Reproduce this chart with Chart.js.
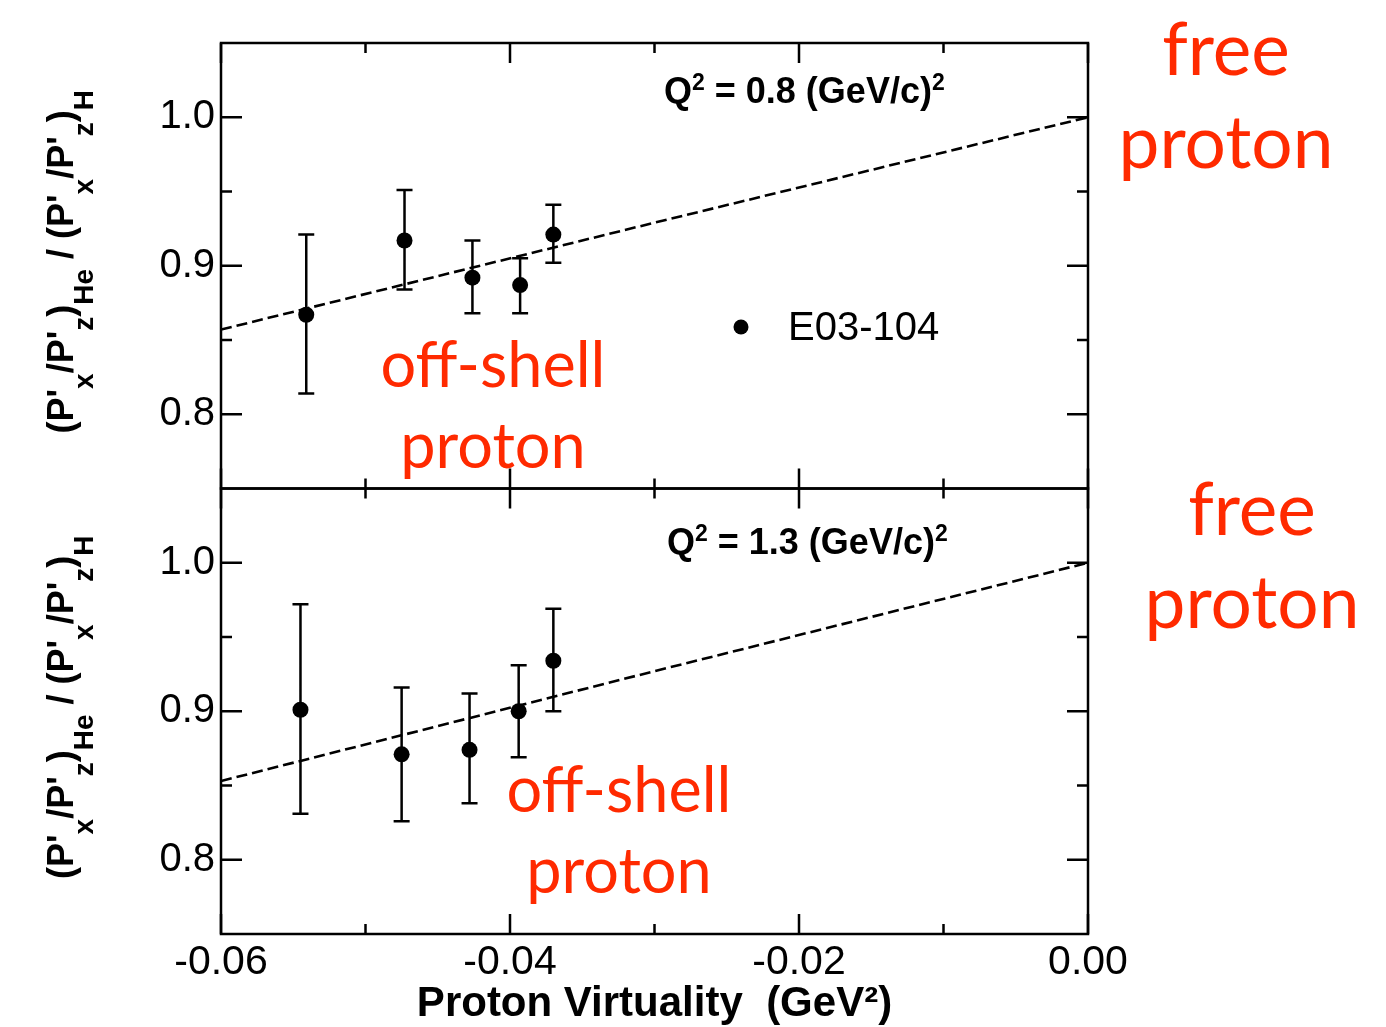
<!DOCTYPE html>
<html>
<head>
<meta charset="utf-8">
<script src="https://cdn.jsdelivr.net/npm/chart.js@4.4.0/dist/chart.umd.min.js"></script>
<style>
  html, body { margin: 0; padding: 0; background: #fff; }
  #wrap { width: 1386px; height: 1027px; }
</style>
</head>
<body>
<div id="wrap"><canvas id="chart" width="1386" height="1027"></canvas></div>
<script>
// Q^2 = 0.8 (GeV/c)^2 : proton virtuality and polarization-transfer ratio
const virtTop = [-0.0541, -0.0473, -0.0426, -0.0393, -0.0370];
const ratioTop = [0.867, 0.917, 0.892, 0.887, 0.921];
const lowTop = [0.814, 0.884, 0.868, 0.868, 0.902];
const highTop = [0.921, 0.951, 0.917, 0.905, 0.941];

// Q^2 = 1.3 (GeV/c)^2
const virtBot = [-0.0545, -0.0475, -0.0428, -0.0394, -0.0370];
const ratioBot = [0.901, 0.871, 0.874, 0.900, 0.934];
const lowBot = [0.831, 0.826, 0.838, 0.869, 0.900];
const highBot = [0.972, 0.916, 0.912, 0.931, 0.969];

// dashed model curves
const curveX = [-0.06, -0.03, 0.0];
const curveTop = [0.857, 0.929, 1.0];
const curveBot = [0.853, 0.927, 1.0];

const xTicks = [-0.06, -0.04, -0.02, 0.0];
const xMinor = [-0.05, -0.03, -0.01];
const yTicks = [0.8, 0.9, 1.0];
const yMinor = [0.85, 0.95];

const SANS = '"Liberation Sans", Arial, Helvetica, sans-serif';
const HUMAN = 'Lato, "Open Sans", sans-serif';
const RED = 'rgb(255, 42, 0)';

Chart.defaults.font.family = SANS;
Chart.defaults.color = '#000';

const pts = (xs, ys) => xs.map((x, i) => ({ x: x, y: ys[i] }));

const panels = [
  { axis: 'yTop', x: virtTop, lo: lowTop, hi: highTop, q2: '0.8' },
  { axis: 'yBot', x: virtBot, lo: lowBot, hi: highBot, q2: '1.3' },
];

// draws a run of text pieces, sub/superscripts shifted off the baseline
function richText(ctx, parts, x, y, size, small, center, subShift) {
  const fontOf = p => 'bold ' + (p.sub || p.sup ? small : size) + 'px ' + SANS;
  let total = 0;
  parts.forEach(p => { ctx.font = fontOf(p); total += ctx.measureText(p.t).width; });
  let cx = center ? x - total / 2 : x;
  ctx.textAlign = 'left';
  ctx.textBaseline = 'alphabetic';
  parts.forEach(p => {
    ctx.font = fontOf(p);
    let dy = 0;
    if (p.sub) dy = subShift;
    if (p.sup) dy = -size * 0.36;
    ctx.fillText(p.t, cx, y + dy);
    cx += ctx.measureText(p.t).width;
  });
}

const framePlugin = {
  id: 'frame',
  beforeDatasetsDraw(chart) {
    const ctx = chart.ctx;
    const xs = chart.scales.x;
    ctx.save();
    ctx.strokeStyle = '#000';
    ctx.lineWidth = 2.5;
    panels.forEach(pn => {
      const ys = chart.scales[pn.axis];
      const l = xs.left, r = xs.right, t = ys.top, b = ys.bottom;
      ctx.strokeRect(l, t, r - l, b - t);
      ctx.beginPath();
      const yt = (v, len) => {
        const p = ys.getPixelForValue(v);
        ctx.moveTo(l, p); ctx.lineTo(l + len, p);
        ctx.moveTo(r, p); ctx.lineTo(r - len, p);
      };
      const xt = (v, len) => {
        const p = xs.getPixelForValue(v);
        ctx.moveTo(p, t); ctx.lineTo(p, t + len);
        ctx.moveTo(p, b); ctx.lineTo(p, b - len);
      };
      yTicks.forEach(v => yt(v, 21));
      yMinor.forEach(v => yt(v, 11));
      xTicks.forEach(v => xt(v, 20));
      xMinor.forEach(v => xt(v, 10));
      ctx.stroke();

      // error bars
      ctx.beginPath();
      pn.x.forEach((xv, i) => {
        const px = xs.getPixelForValue(xv);
        const p1 = ys.getPixelForValue(pn.lo[i]);
        const p2 = ys.getPixelForValue(pn.hi[i]);
        ctx.moveTo(px, p1); ctx.lineTo(px, p2);
        ctx.moveTo(px - 8, p1); ctx.lineTo(px + 8, p1);
        ctx.moveTo(px - 8, p2); ctx.lineTo(px + 8, p2);
      });
      ctx.stroke();
    });
    ctx.restore();
  },
  afterDraw(chart) {
    const ctx = chart.ctx;
    const area = chart.chartArea;
    ctx.save();
    ctx.fillStyle = '#000';

    panels.forEach((pn, k) => {
      const ys = chart.scales[pn.axis];
      // Q^2 label
      richText(ctx, [{ t: 'Q' }, { t: '2', sup: true }, { t: ' = ' + pn.q2 + ' (GeV/c)' }, { t: '2', sup: true }],
        area.left + 443 + k * 3, ys.top + 60 + k * 5, 36, 23, false, 0);
      // y title
      ctx.save();
      ctx.translate(73, (ys.top + ys.bottom) / 2 - 4);
      ctx.rotate(-Math.PI / 2);
      richText(ctx, [
        { t: "(P'" }, { t: 'x', sub: true }, { t: "/P'" }, { t: 'z', sub: true }, { t: ')' }, { t: 'He', sub: true },
        { t: " / (P'" }, { t: 'x', sub: true }, { t: "/P'" }, { t: 'z', sub: true }, { t: ')' }, { t: 'H', sub: true },
      ], 0, 0, 36, 28, true, 20);
      ctx.restore();
    });

    // legend
    const top = chart.scales.yTop;
    const lx = area.left + 520, ly = top.top + 284;
    ctx.beginPath();
    ctx.arc(lx, ly, 7.5, 0, Math.PI * 2);
    ctx.fill();
    ctx.font = '40px ' + SANS;
    ctx.textAlign = 'left';
    ctx.textBaseline = 'middle';
    ctx.fillText(chart.data.datasets[0].label, lx + 47, ly + 2);

    // red annotations
    ctx.fillStyle = RED;
    ctx.textAlign = 'center';
    ctx.textBaseline = 'alphabetic';
    ctx.font = '73px ' + HUMAN;
    ctx.fillText('free', 1226, 75);
    ctx.fillText('proton', 1226, 168);
    ctx.fillText('free', 1252, 535);
    ctx.fillText('proton', 1252, 628);
    ctx.font = '63px ' + HUMAN;
    ctx.fillText('off-shell', 493, 387);
    ctx.fillText('proton', 493, 468);
    ctx.fillText('off-shell', 619, 812);
    ctx.fillText('proton', 619, 893);
    ctx.restore();
  }
};

const yScale = {
  type: 'linear',
  position: 'left',
  stack: 'panels',
  stackWeight: 1,
  min: 0.75,
  max: 1.05,
  grid: { display: false, drawTicks: false, tickLength: 0 },
  border: { display: false },
  afterBuildTicks: s => { s.ticks = yTicks.map(v => ({ value: v })); },
  afterFit: s => { s.width = 221; },
  ticks: {
    padding: 6,
    font: { size: 40 },
    color: '#000',
    callback: v => Number(v).toFixed(1),
  },
};

new Chart(document.getElementById('chart'), {
  type: 'scatter',
  data: {
    datasets: [
      { label: 'E03-104', data: pts(virtTop, ratioTop), xAxisID: 'x', yAxisID: 'yTop',
        pointRadius: 8, backgroundColor: '#000', borderColor: '#000', borderWidth: 0 },
      { label: 'curve-top', type: 'line', data: pts(curveX, curveTop), xAxisID: 'x', yAxisID: 'yTop',
        borderColor: '#000', borderWidth: 2.6, borderDash: [11, 5], pointRadius: 0, fill: false },
      { label: 'E03-104', data: pts(virtBot, ratioBot), xAxisID: 'x', yAxisID: 'yBot',
        pointRadius: 8, backgroundColor: '#000', borderColor: '#000', borderWidth: 0 },
      { label: 'curve-bottom', type: 'line', data: pts(curveX, curveBot), xAxisID: 'x', yAxisID: 'yBot',
        borderColor: '#000', borderWidth: 2.6, borderDash: [11, 5], pointRadius: 0, fill: false },
    ],
  },
  options: {
    responsive: false,
    animation: false,
    layout: { padding: { top: 43, right: 298, left: 0, bottom: 0 } },
    plugins: { legend: { display: false }, tooltip: { enabled: false } },
    scales: {
      x: {
        type: 'linear',
        position: 'bottom',
        min: -0.06,
        max: 0,
        grid: { display: false, drawTicks: false, tickLength: 0 },
        border: { display: false },
        afterBuildTicks: s => { s.ticks = xTicks.map(v => ({ value: v })); },
        afterFit: s => { s.height = 93; },
        ticks: {
          padding: 4,
          maxRotation: 0,
          font: { size: 41 },
          color: '#000',
          callback: v => Number(v).toFixed(2),
        },
        title: {
          display: true,
          text: 'Proton Virtuality  (GeV\u00B2)',
          font: { size: 42, weight: 'bold', lineHeight: 1 },
          color: '#000',
          padding: { top: 0, bottom: 2 },
        },
      },
      // the scale defined last in a stack is placed on top
      yBot: Object.assign({}, yScale),
      yTop: Object.assign({}, yScale),
    },
  },
  plugins: [framePlugin],
});
</script>
</body>
</html>
